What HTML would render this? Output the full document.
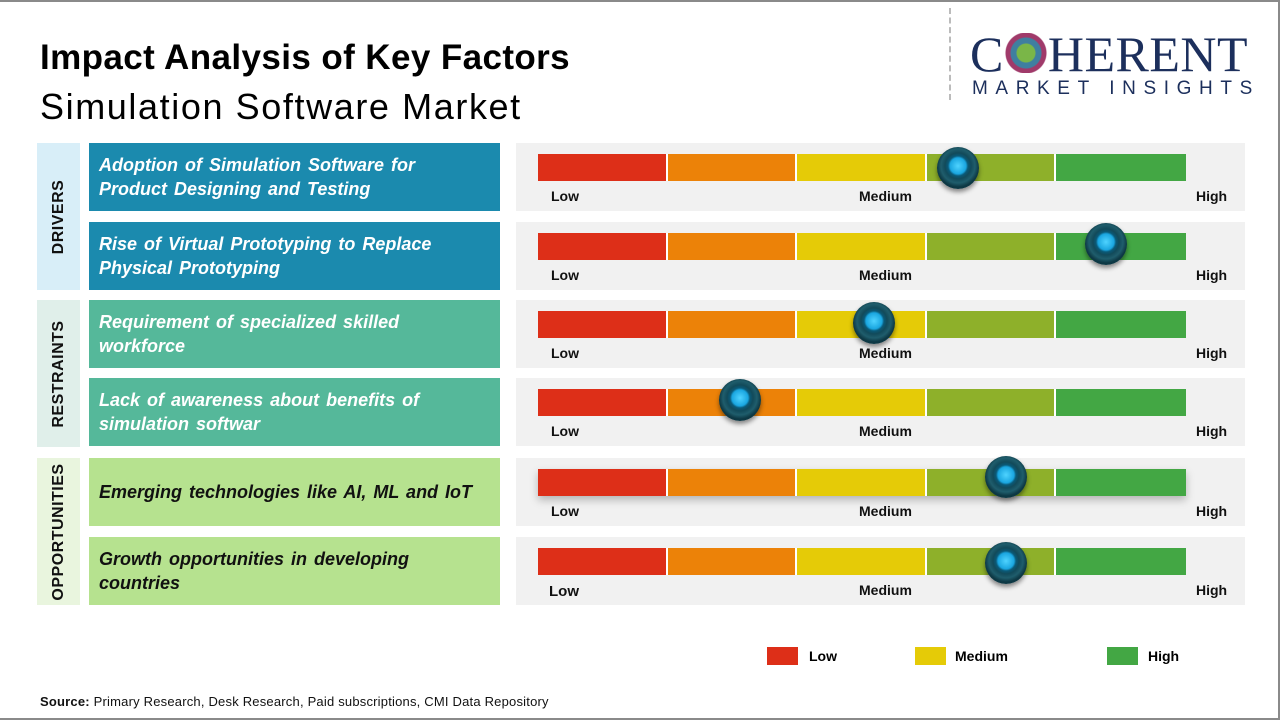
<!DOCTYPE html>
<html><head><meta charset="utf-8"><style>
*{margin:0;padding:0;box-sizing:border-box}
body{width:1280px;height:720px;position:relative;background:#fff;font-family:"Liberation Sans",sans-serif;overflow:hidden}
.frame{position:absolute;left:0;top:0;width:1280px;height:720px;border:2px solid #8a8a8a;border-left:none}
.a{position:absolute}
.cat{position:absolute;left:37px;width:43px}
.cat span{position:absolute;left:50%;top:50%;transform:translate(-50%,-50%) rotate(-90deg);font-weight:bold;font-size:16px;color:#111;white-space:nowrap;letter-spacing:.5px}
.lbl{position:absolute;left:89px;width:411px;height:68px;padding:10px 8px 0 10px;font-style:italic;font-weight:bold;font-size:18px;line-height:24px;color:#fff;word-spacing:2px;white-space:nowrap}
.pan{position:absolute;left:516px;width:729px;height:68px;background:#f1f1f1}
.bar{position:absolute;left:22px;top:11px;height:27px;width:648px;display:flex}
.bar div{height:27px;width:129.6px;border-right:2px solid #fff}
.bar div:last-child{border-right:none}
.t{position:absolute;top:45px;font-weight:bold;font-size:14px;color:#111}
.knob{position:absolute;width:42px;height:42px;border-radius:50%;background:radial-gradient(circle at 50% 45%,#4fd3ff 0,#1aa6e0 8px,#0a5a78 10px,#124a5a 13px,#1f5d6c 17px,#0d3844 21px);box-shadow:0 3px 5px rgba(0,0,0,.45)}
</style></head><body>
<div class="frame"></div>
<div class="a" style="left:40px;top:38px;font-size:35px;font-weight:bold;color:#000;letter-spacing:0.4px">Impact Analysis of Key Factors</div>
<div class="a" style="left:40px;top:86px;font-size:36px;color:#000;letter-spacing:1.6px">Simulation Software Market</div>
<div class="a" style="left:949px;top:8px;height:92px;border-left:2px dashed #bbb"></div>
<div class="a" style="left:970px;top:29px;font-family:'Liberation Serif',serif;font-size:50px;color:#1c2f5c;line-height:50px;letter-spacing:0.5px">C<span style="display:inline-block;width:44px;height:40px;vertical-align:-2px;background:radial-gradient(circle,#7ab648 0 9px,#3f7fa0 10px 15px,#a03a6a 16px 20px,transparent 21px)"></span>HERENT</div>
<div class="a" style="left:972px;top:78px;font-size:19px;color:#1c2f5c;letter-spacing:7.6px">MARKET INSIGHTS</div>

<div class="cat" style="top:143px;height:147px;background:#d8eef8"><span>DRIVERS</span></div>
<div class="cat" style="top:300px;height:147px;background:#e0efea"><span>RESTRAINTS</span></div>
<div class="cat" style="top:458px;height:147px;background:#e9f5de"><span>OPPORTUNITIES</span></div>

<div class="lbl" style="top:143px;background:#1b8aae">Adoption of Simulation Software for<br>Product Designing and Testing</div>
<div class="lbl" style="top:222px;background:#1b8aae">Rise of Virtual Prototyping to Replace<br>Physical Prototyping</div>
<div class="lbl" style="top:300px;background:#55b89a">Requirement of specialized skilled<br>workforce</div>
<div class="lbl" style="top:378px;background:#55b89a">Lack of awareness about benefits of<br>simulation softwar</div>
<div class="lbl" style="top:458px;background:#b6e28f;color:#111;padding-top:22px">Emerging technologies like AI, ML and IoT</div>
<div class="lbl" style="top:537px;background:#b6e28f;color:#111">Growth opportunities in developing<br>countries</div>

<div class="pan" style="top:143px"><div class="bar"><div style="background:#dd2f18"></div><div style="background:#ec8208"></div><div style="background:#e5cb07"></div><div style="background:#8eb02a"></div><div style="background:#43a744"></div></div><span class="t" style="left:35px">Low</span><span class="t" style="left:343px">Medium</span><span class="t" style="left:680px">High</span><div class="knob" style="left:421px;top:4px"></div></div>
<div class="pan" style="top:222px"><div class="bar"><div style="background:#dd2f18"></div><div style="background:#ec8208"></div><div style="background:#e5cb07"></div><div style="background:#8eb02a"></div><div style="background:#43a744"></div></div><span class="t" style="left:35px">Low</span><span class="t" style="left:343px">Medium</span><span class="t" style="left:680px">High</span><div class="knob" style="left:569px;top:1px"></div></div>
<div class="pan" style="top:300px"><div class="bar"><div style="background:#dd2f18"></div><div style="background:#ec8208"></div><div style="background:#e5cb07"></div><div style="background:#8eb02a"></div><div style="background:#43a744"></div></div><span class="t" style="left:35px">Low</span><span class="t" style="left:343px">Medium</span><span class="t" style="left:680px">High</span><div class="knob" style="left:337px;top:2px"></div></div>
<div class="pan" style="top:378px"><div class="bar"><div style="background:#dd2f18"></div><div style="background:#ec8208"></div><div style="background:#e5cb07"></div><div style="background:#8eb02a"></div><div style="background:#43a744"></div></div><span class="t" style="left:35px">Low</span><span class="t" style="left:343px">Medium</span><span class="t" style="left:680px">High</span><div class="knob" style="left:203px;top:1px"></div></div>
<div class="pan" style="top:458px"><div class="bar" style="box-shadow:0 4px 8px rgba(0,0,0,.25)"><div style="background:#dd2f18"></div><div style="background:#ec8208"></div><div style="background:#e5cb07"></div><div style="background:#8eb02a"></div><div style="background:#43a744"></div></div><span class="t" style="left:35px">Low</span><span class="t" style="left:343px">Medium</span><span class="t" style="left:680px">High</span><div class="knob" style="left:469px;top:-2px"></div></div>
<div class="pan" style="top:537px"><div class="bar"><div style="background:#dd2f18"></div><div style="background:#ec8208"></div><div style="background:#e5cb07"></div><div style="background:#8eb02a"></div><div style="background:#43a744"></div></div><span class="t" style="left:33px;top:46px;font-size:15px">Low</span><span class="t" style="left:343px">Medium</span><span class="t" style="left:680px">High</span><div class="knob" style="left:469px;top:5px"></div></div>

<div class="a" style="left:767px;top:647px;width:31px;height:18px;background:#dd2f18"></div>
<div class="a" style="left:809px;top:648px;font-weight:bold;font-size:14px">Low</div>
<div class="a" style="left:915px;top:647px;width:31px;height:18px;background:#e5cb07"></div>
<div class="a" style="left:955px;top:648px;font-weight:bold;font-size:14px">Medium</div>
<div class="a" style="left:1107px;top:647px;width:31px;height:18px;background:#43a744"></div>
<div class="a" style="left:1148px;top:648px;font-weight:bold;font-size:14px">High</div>

<div class="a" style="left:40px;top:694px;font-size:13px;color:#111;letter-spacing:0.2px"><b>Source:</b> Primary Research, Desk Research, Paid subscriptions, CMI Data Repository</div>
</body></html>
